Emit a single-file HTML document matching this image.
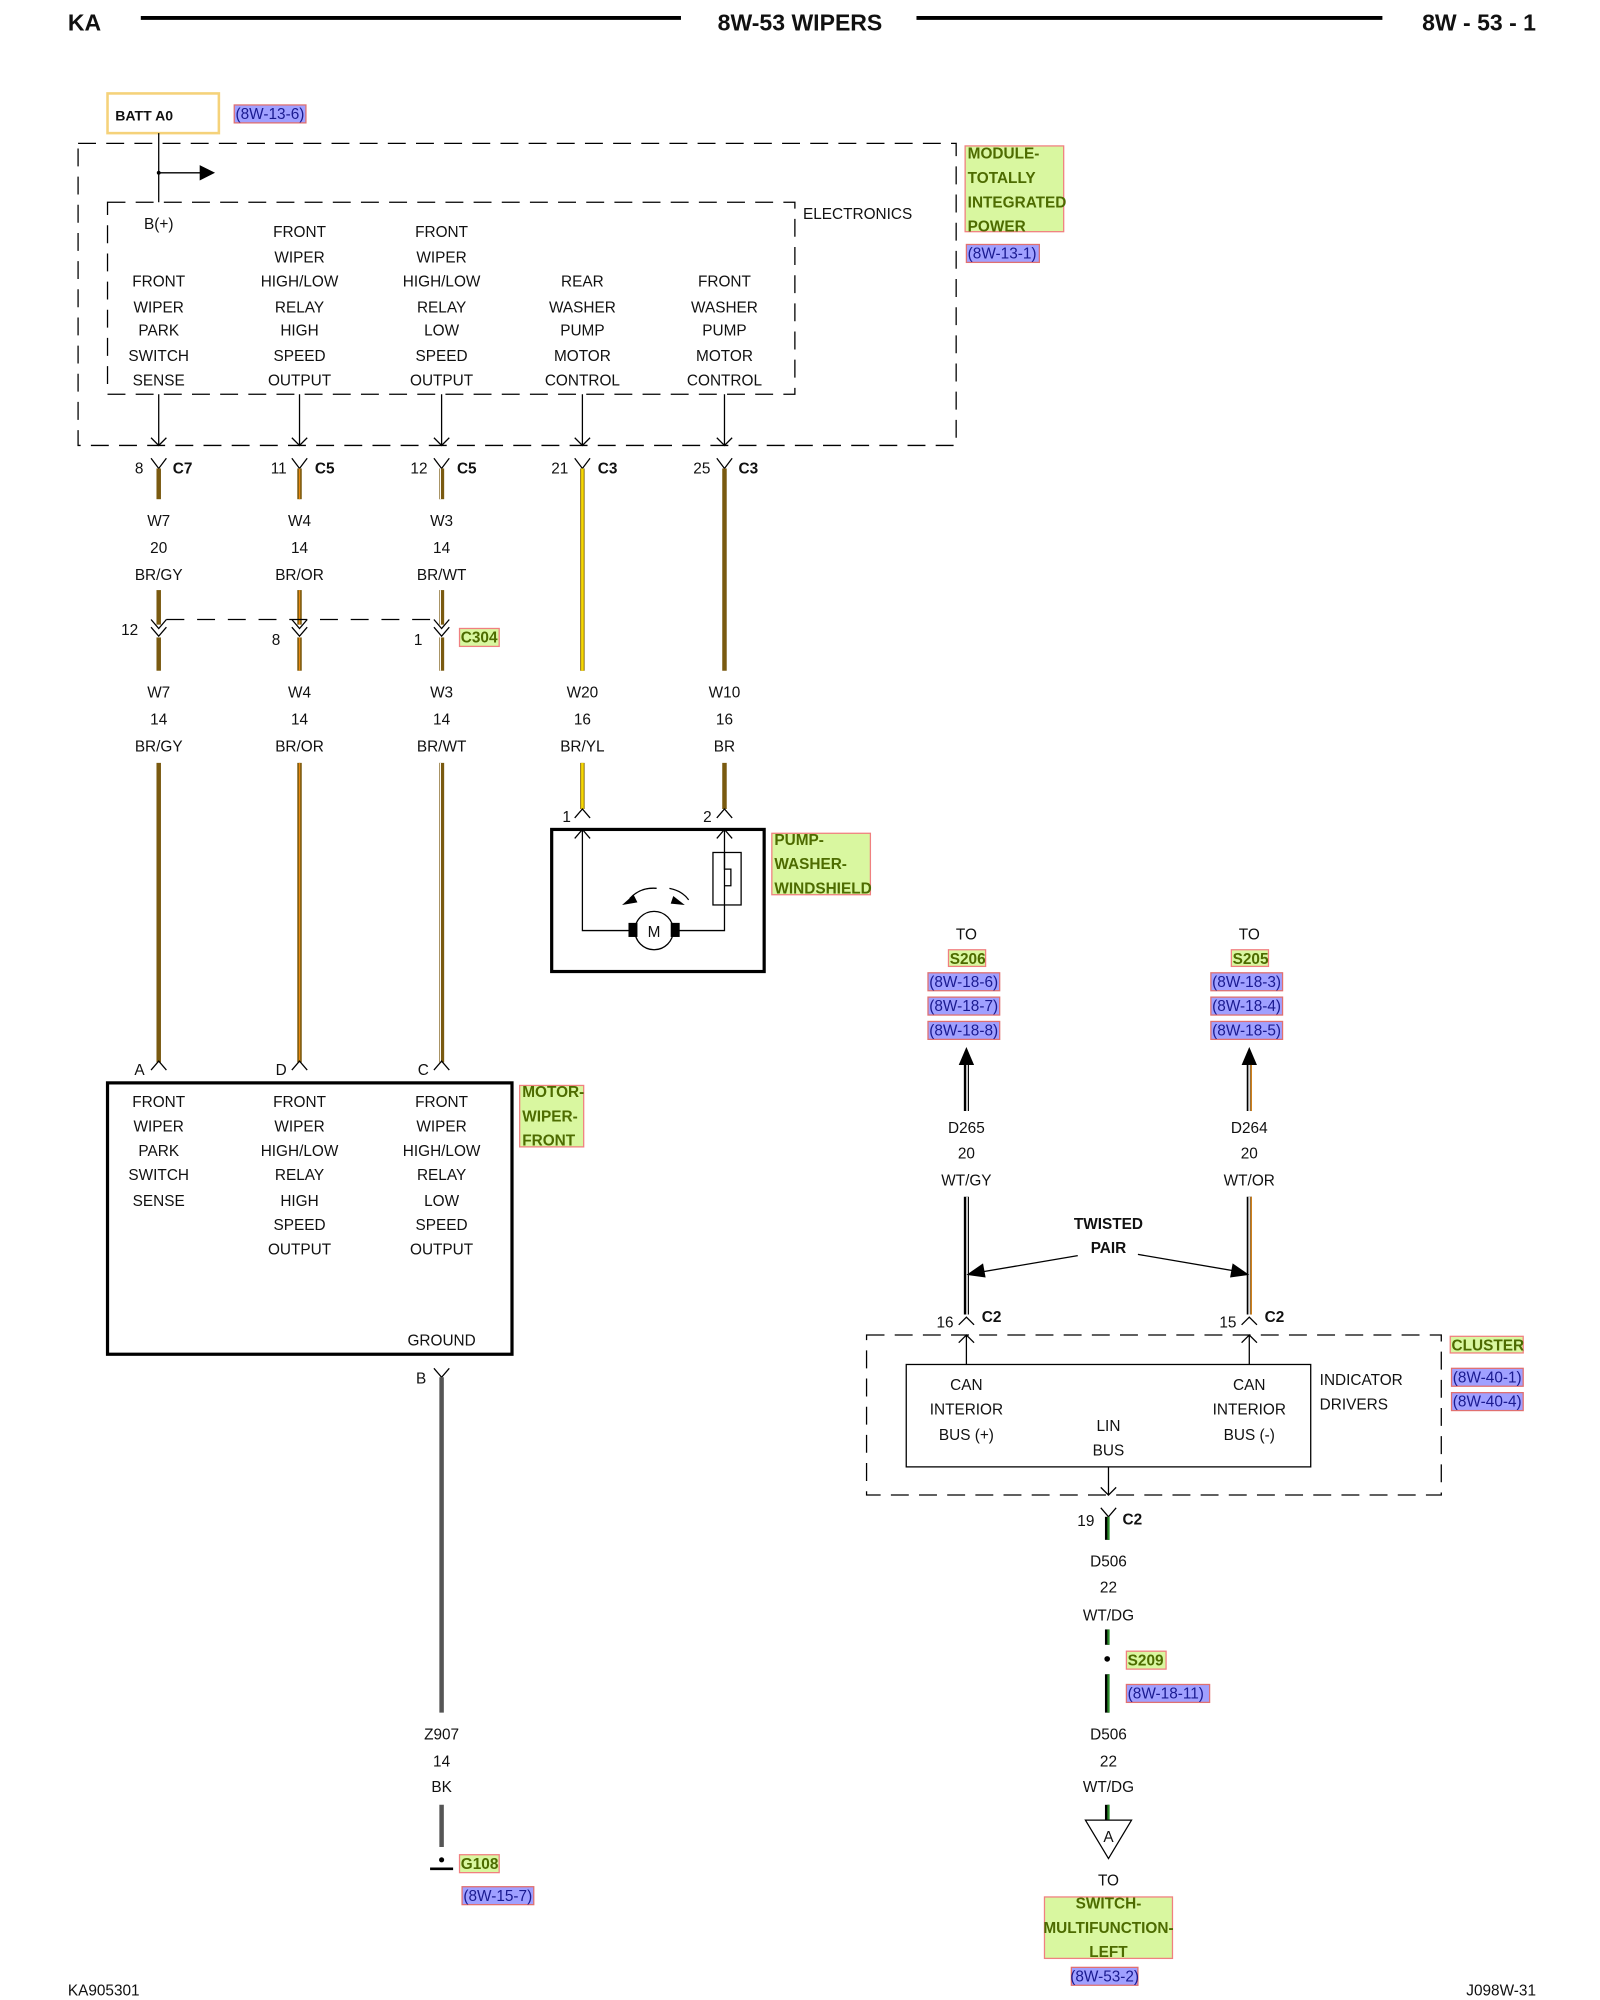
<!DOCTYPE html>
<html><head><meta charset="utf-8"><style>
html,body{margin:0;padding:0;background:#fff}
svg{display:block}
text{font-family:"Liberation Sans",sans-serif;font-size:12px;fill:#111}
.m{text-anchor:middle}
.b{font-weight:bold}
.lg{font-weight:bold;fill:#4d6b00;font-size:12px}
.rf{fill:#1a1a90;font-size:12px}
</style></head><body>
<svg width="1600" height="2000" viewBox="0 0 1250 1562.5" xmlns="http://www.w3.org/2000/svg">
<text x="53" y="24" class="b" style="font-size:18px">KA</text>
<line x1="110" y1="14" x2="532" y2="14" stroke="#000" stroke-width="3"/>
<text x="625" y="24" class="b m" style="font-size:18px">8W-53 WIPERS</text>
<line x1="716" y1="14" x2="1080" y2="14" stroke="#000" stroke-width="3"/>
<text x="1200" y="24" class="b" style="font-size:18px;text-anchor:end">8W - 53 - 1</text>

<rect x="84" y="73" width="87" height="31" fill="#fff" stroke="#f5d27a" stroke-width="2"/>
<text x="90" y="94" class="b" style="font-size:11px">BATT A0</text>
<rect x="183" y="82" width="56" height="14" fill="#a0a0ff" stroke="#e07070"/>
<text x="184" y="93" class="rf">(8W-13-6)</text>

<rect x="61" y="112" width="686" height="236" fill="none" stroke="#000" stroke-dasharray="14,8"/>
<rect x="84" y="158" width="537" height="150" fill="none" stroke="#000" stroke-dasharray="14,8"/>
<line x1="124" y1="104" x2="124" y2="158" stroke="#000"/>
<line x1="124" y1="135" x2="158" y2="135" stroke="#000"/>
<polygon points="156,129 168,135 156,141" fill="#000"/>
<circle cx="124" cy="135" r="1.5" fill="#000"/>
<text x="124" y="179" class="m">B(+)</text>
<text x="670" y="171" class="m">ELECTRONICS</text>
<rect x="754" y="114" width="77" height="67" fill="#d9f7a0" stroke="#f08080"/>
<text x="756" y="124" class="lg">MODULE-</text><text x="756" y="143" class="lg">TOTALLY</text><text x="756" y="162" class="lg">INTEGRATED</text><text x="756" y="181" class="lg">POWER</text>
<rect x="755" y="191" width="57" height="14" fill="#a0a0ff" stroke="#e07070"/>
<text x="756" y="202" class="rf">(8W-13-1)</text>

<g class="m">
<text x="124" y="224" class="m">FRONT</text><text x="124" y="244" class="m">WIPER</text><text x="124" y="262" class="m">PARK</text><text x="124" y="282" class="m">SWITCH</text><text x="124" y="301" class="m">SENSE</text>
<text x="234" y="185" class="m">FRONT</text><text x="234" y="205" class="m">WIPER</text><text x="234" y="224" class="m">HIGH/LOW</text><text x="234" y="244" class="m">RELAY</text><text x="234" y="262" class="m">HIGH</text><text x="234" y="282" class="m">SPEED</text><text x="234" y="301" class="m">OUTPUT</text>
<text x="345" y="185" class="m">FRONT</text><text x="345" y="205" class="m">WIPER</text><text x="345" y="224" class="m">HIGH/LOW</text><text x="345" y="244" class="m">RELAY</text><text x="345" y="262" class="m">LOW</text><text x="345" y="282" class="m">SPEED</text><text x="345" y="301" class="m">OUTPUT</text>
<text x="455" y="224" class="m">REAR</text><text x="455" y="244" class="m">WASHER</text><text x="455" y="262" class="m">PUMP</text><text x="455" y="282" class="m">MOTOR</text><text x="455" y="301" class="m">CONTROL</text>
<text x="566" y="224" class="m">FRONT</text><text x="566" y="244" class="m">WASHER</text><text x="566" y="262" class="m">PUMP</text><text x="566" y="282" class="m">MOTOR</text><text x="566" y="301" class="m">CONTROL</text>
</g>

<g stroke="#000" fill="none">
<path d="M124 308V348M118 342L124 348L130 342"/>
<path d="M234 308V348M228 342L234 348L240 342"/>
<path d="M345 308V348M339 342L345 348L351 342"/>
<path d="M455 308V348M449 342L455 348L461 342"/>
<path d="M566 308V348M560 342L566 348L572 342"/>
<path d="M118 358L124 366L130 358M228 358L234 366L240 358M339 358L345 366L351 358M449 358L455 366L461 358M560 358L566 366L572 358"/>
</g>
<text x="112" y="370" style="text-anchor:end">8</text><text x="135" y="370" class="b">C7</text>
<text x="224" y="370" style="text-anchor:end">11</text><text x="246" y="370" class="b">C5</text>
<text x="334" y="370" style="text-anchor:end">12</text><text x="357" y="370" class="b">C5</text>
<text x="444" y="370" style="text-anchor:end">21</text><text x="467" y="370" class="b">C3</text>
<text x="555" y="370" style="text-anchor:end">25</text><text x="577" y="370" class="b">C3</text>

<g stroke-linecap="butt">
<line x1="124" y1="366" x2="124" y2="390" stroke="#7a5a10" stroke-width="3.5"/>
<line x1="234" y1="366" x2="234" y2="390" stroke="#7a5a10" stroke-width="3.5"/><line x1="234" y1="366" x2="234" y2="390" stroke="#e88a10" stroke-width="1"/>
<line x1="345" y1="366" x2="345" y2="390" stroke="#7a5a10" stroke-width="4"/><line x1="344" y1="366" x2="344" y2="390" stroke="#fff" stroke-width="1"/>
<line x1="455" y1="366" x2="455" y2="524" stroke="#8a6a10" stroke-width="3.5"/><line x1="455" y1="366" x2="455" y2="524" stroke="#f5d800" stroke-width="2"/>
<line x1="566" y1="366" x2="566" y2="524" stroke="#7a5a10" stroke-width="3.5"/>

<line x1="124" y1="461" x2="124" y2="488" stroke="#7a5a10" stroke-width="3.5"/>
<line x1="234" y1="461" x2="234" y2="488" stroke="#7a5a10" stroke-width="3.5"/><line x1="234" y1="461" x2="234" y2="488" stroke="#e88a10" stroke-width="1"/>
<line x1="345" y1="461" x2="345" y2="488" stroke="#7a5a10" stroke-width="4"/><line x1="344" y1="461" x2="344" y2="488" stroke="#fff" stroke-width="1"/>

<line x1="124" y1="498" x2="124" y2="524" stroke="#7a5a10" stroke-width="3.5"/>
<line x1="234" y1="498" x2="234" y2="524" stroke="#7a5a10" stroke-width="3.5"/><line x1="234" y1="498" x2="234" y2="524" stroke="#e88a10" stroke-width="1"/>
<line x1="345" y1="498" x2="345" y2="524" stroke="#7a5a10" stroke-width="4"/><line x1="344" y1="498" x2="344" y2="524" stroke="#fff" stroke-width="1"/>

<line x1="124" y1="596" x2="124" y2="830" stroke="#7a5a10" stroke-width="3.5"/>
<line x1="234" y1="596" x2="234" y2="830" stroke="#7a5a10" stroke-width="3.5"/><line x1="234" y1="596" x2="234" y2="830" stroke="#e88a10" stroke-width="1"/>
<line x1="345" y1="596" x2="345" y2="830" stroke="#7a5a10" stroke-width="4"/><line x1="344" y1="596" x2="344" y2="830" stroke="#fff" stroke-width="1"/>
<line x1="455" y1="596" x2="455" y2="632" stroke="#8a6a10" stroke-width="3.5"/><line x1="455" y1="596" x2="455" y2="632" stroke="#f5d800" stroke-width="2"/>
<line x1="566" y1="596" x2="566" y2="632" stroke="#7a5a10" stroke-width="3.5"/>
</g>
<g class="m">
<text x="124" y="411" class="m">W7</text><text x="124" y="432" class="m">20</text><text x="124" y="453" class="m">BR/GY</text>
<text x="234" y="411" class="m">W4</text><text x="234" y="432" class="m">14</text><text x="234" y="453" class="m">BR/OR</text>
<text x="345" y="411" class="m">W3</text><text x="345" y="432" class="m">14</text><text x="345" y="453" class="m">BR/WT</text>
<text x="124" y="545" class="m">W7</text><text x="124" y="566" class="m">14</text><text x="124" y="587" class="m">BR/GY</text>
<text x="234" y="545" class="m">W4</text><text x="234" y="566" class="m">14</text><text x="234" y="587" class="m">BR/OR</text>
<text x="345" y="545" class="m">W3</text><text x="345" y="566" class="m">14</text><text x="345" y="587" class="m">BR/WT</text>
<text x="455" y="545" class="m">W20</text><text x="455" y="566" class="m">16</text><text x="455" y="587" class="m">BR/YL</text>
<text x="566" y="545" class="m">W10</text><text x="566" y="566" class="m">16</text><text x="566" y="587" class="m">BR</text>
</g>
<g stroke="#000" fill="none">
<path d="M130 484H345" stroke-dasharray="14,10"/>
<path d="M118 484L124 491L130 484M228 484L234 491L240 484M339 484L345 491L351 484"/>
<path d="M118 490L124 497L130 490M228 490L234 497L240 490M339 490L345 497L351 490"/>
</g>
<text x="108" y="496" style="text-anchor:end">12</text>
<text x="219" y="504" style="text-anchor:end">8</text>
<text x="330" y="504" style="text-anchor:end">1</text>
<rect x="359" y="491" width="31" height="14" fill="#d9f7a0" stroke="#f08080"/>
<text x="360" y="502" class="lg">C304</text>

<g stroke="#000" fill="none">
<path d="M449 639L455 632L461 639M560 639L566 632L572 639"/>
<rect x="431" y="648" width="166" height="111" stroke-width="2.5"/>
<path d="M455 648V727H492M529 727H566V648"/>
<path d="M449 655L455 648L461 655M560 655L566 648L572 655"/>
<rect x="557" y="666" width="22" height="41"/>
<path d="M566 666V679H571V692H566"/>
<circle cx="511" cy="727" r="15" fill="#fff"/>
<path d="M513 694Q500 693 492 702M523 694Q533 696 538 703"/>
</g>
<rect x="491" y="721" width="7" height="11" fill="#000"/><rect x="524" y="721" width="7" height="11" fill="#000"/>
<polygon points="486,707 495,699 498,705" fill="#000"/><polygon points="535,707 526,700 524,706" fill="#000"/>
<text x="511" y="732" class="m">M</text>
<text x="446" y="642" style="text-anchor:end">1</text><text x="556" y="642" style="text-anchor:end">2</text>
<rect x="603" y="651" width="77" height="48" fill="#d9f7a0" stroke="#f08080"/>
<text x="605" y="660" class="lg">PUMP-</text><text x="605" y="679" class="lg">WASHER-</text><text x="605" y="698" class="lg">WINDSHIELD</text>

<g stroke="#000" fill="none">
<path d="M118 836L124 829L130 836M228 836L234 829L240 836M339 836L345 829L351 836"/>
<rect x="84" y="846" width="316" height="212" stroke-width="2.5"/>
<path d="M339 1069L345 1076L351 1069"/>
</g>
<text x="113" y="840" style="text-anchor:end">A</text><text x="224" y="840" style="text-anchor:end">D</text><text x="335" y="840" style="text-anchor:end">C</text>
<text x="124" y="865" class="m">FRONT</text><text x="124" y="884" class="m">WIPER</text><text x="124" y="903" class="m">PARK</text><text x="124" y="922" class="m">SWITCH</text><text x="124" y="942" class="m">SENSE</text>
<text x="234" y="865" class="m">FRONT</text><text x="234" y="884" class="m">WIPER</text><text x="234" y="903" class="m">HIGH/LOW</text><text x="234" y="922" class="m">RELAY</text><text x="234" y="942" class="m">HIGH</text><text x="234" y="961" class="m">SPEED</text><text x="234" y="980" class="m">OUTPUT</text>
<text x="345" y="865" class="m">FRONT</text><text x="345" y="884" class="m">WIPER</text><text x="345" y="903" class="m">HIGH/LOW</text><text x="345" y="922" class="m">RELAY</text><text x="345" y="942" class="m">LOW</text><text x="345" y="961" class="m">SPEED</text><text x="345" y="980" class="m">OUTPUT</text>
<text x="345" y="1051" class="m">GROUND</text>
<rect x="406" y="848" width="50" height="48" fill="#d9f7a0" stroke="#f08080"/>
<text x="408" y="857" class="lg">MOTOR-</text><text x="408" y="876" class="lg">WIPER-</text><text x="408" y="895" class="lg">FRONT</text>
<text x="333" y="1081" style="text-anchor:end">B</text>
<line x1="345" y1="1076" x2="345" y2="1338" stroke="#555" stroke-width="3.5"/>
<text x="345" y="1359" class="m">Z907</text><text x="345" y="1380" class="m">14</text><text x="345" y="1400" class="m">BK</text>
<line x1="345" y1="1410" x2="345" y2="1443" stroke="#555" stroke-width="3.5"/>
<line x1="336" y1="1460" x2="354" y2="1460" stroke="#000" stroke-width="2"/>
<circle cx="345" cy="1453" r="2" fill="#000"/>
<rect x="359" y="1449" width="31" height="14" fill="#d9f7a0" stroke="#f08080"/>
<text x="360" y="1460" class="lg">G108</text>
<rect x="361" y="1474" width="56" height="14" fill="#a0a0ff" stroke="#e07070"/>
<text x="362" y="1485" class="rf">(8W-15-7)</text>

<text x="755" y="734" class="m">TO</text><text x="976" y="734" class="m">TO</text>
<rect x="741" y="742" width="29" height="13" fill="#d9f7a0" stroke="#f08080"/><text x="742" y="753" class="lg">S206</text>
<rect x="962" y="742" width="29" height="13" fill="#d9f7a0" stroke="#f08080"/><text x="963" y="753" class="lg">S205</text>
<rect x="725" y="760" width="56" height="14" fill="#a0a0ff" stroke="#e07070"/><text x="726" y="771" class="rf">(8W-18-6)</text>
<rect x="725" y="779" width="56" height="14" fill="#a0a0ff" stroke="#e07070"/><text x="726" y="790" class="rf">(8W-18-7)</text>
<rect x="725" y="798" width="56" height="14" fill="#a0a0ff" stroke="#e07070"/><text x="726" y="809" class="rf">(8W-18-8)</text>
<rect x="946" y="760" width="56" height="14" fill="#a0a0ff" stroke="#e07070"/><text x="947" y="771" class="rf">(8W-18-3)</text>
<rect x="946" y="779" width="56" height="14" fill="#a0a0ff" stroke="#e07070"/><text x="947" y="790" class="rf">(8W-18-4)</text>
<rect x="946" y="798" width="56" height="14" fill="#a0a0ff" stroke="#e07070"/><text x="947" y="809" class="rf">(8W-18-5)</text>
<polygon points="749,832 755,818 761,832" fill="#000"/><polygon points="970,832 976,818 982,832" fill="#000"/>
<g>
<line x1="755" y1="832" x2="755" y2="868" stroke="#000" stroke-width="4"/><line x1="755.5" y1="832" x2="755.5" y2="868" stroke="#ccc" stroke-width="1.5"/>
<line x1="755" y1="935" x2="755" y2="1027" stroke="#000" stroke-width="4"/><line x1="755.5" y1="935" x2="755.5" y2="1027" stroke="#ccc" stroke-width="1.5"/>
<line x1="976" y1="832" x2="976" y2="868" stroke="#000" stroke-width="4"/><line x1="976" y1="832" x2="976" y2="868" stroke="#ddd" stroke-width="1.5"/><line x1="977.5" y1="832" x2="977.5" y2="868" stroke="#e88a10" stroke-width="1"/>
<line x1="976" y1="935" x2="976" y2="1027" stroke="#000" stroke-width="4"/><line x1="976" y1="935" x2="976" y2="1027" stroke="#ddd" stroke-width="1.5"/><line x1="977.5" y1="935" x2="977.5" y2="1027" stroke="#e88a10" stroke-width="1"/>
</g>
<text x="755" y="885" class="m">D265</text><text x="755" y="905" class="m">20</text><text x="755" y="926" class="m">WT/GY</text>
<text x="976" y="885" class="m">D264</text><text x="976" y="905" class="m">20</text><text x="976" y="926" class="m">WT/OR</text>
<text x="866" y="960" class="m b">TWISTED</text><text x="866" y="979" class="m b">PAIR</text>
<line x1="842" y1="981" x2="765" y2="994" stroke="#000"/><polygon points="755,996 768,987 770,998" fill="#000"/>
<line x1="889" y1="980" x2="965" y2="993" stroke="#000"/><polygon points="976,996 963,987 961,998" fill="#000"/>
<g stroke="#000" fill="none">
<path d="M749 1035L755 1029L761 1035M970 1035L976 1029L982 1035"/>
<rect x="677" y="1043" width="449" height="125" stroke-dasharray="14,8"/>
<rect x="708" y="1066" width="316" height="80"/>
<path d="M755 1043V1066M749 1049L755 1043L761 1049M976 1043V1066M970 1049L976 1043L982 1049"/>
<path d="M866 1146V1168M860 1162L866 1168L872 1162"/>
<path d="M860 1178L866 1185L872 1178"/>
</g>
<text x="745" y="1037" style="text-anchor:end">16</text><text x="767" y="1033" class="b">C2</text>
<text x="966" y="1037" style="text-anchor:end">15</text><text x="988" y="1033" class="b">C2</text>
<text x="755" y="1086" class="m">CAN</text><text x="755" y="1105" class="m">INTERIOR</text><text x="755" y="1125" class="m">BUS (+)</text>
<text x="976" y="1086" class="m">CAN</text><text x="976" y="1105" class="m">INTERIOR</text><text x="976" y="1125" class="m">BUS (-)</text>
<text x="866" y="1118" class="m">LIN</text><text x="866" y="1137" class="m">BUS</text>
<text x="1031" y="1082">INDICATOR</text><text x="1031" y="1101">DRIVERS</text>
<rect x="1133" y="1044" width="57" height="13" fill="#d9f7a0" stroke="#f08080"/><text x="1134" y="1055" class="lg">CLUSTER</text>
<rect x="1134" y="1069" width="56" height="14" fill="#a0a0ff" stroke="#e07070"/><text x="1135" y="1080" class="rf">(8W-40-1)</text>
<rect x="1134" y="1088" width="56" height="14" fill="#a0a0ff" stroke="#e07070"/><text x="1135" y="1099" class="rf">(8W-40-4)</text>
<text x="855" y="1192" style="text-anchor:end">19</text><text x="877" y="1191" class="b">C2</text>
<g>
<line x1="865" y1="1185" x2="865" y2="1203" stroke="#000" stroke-width="3.5"/><line x1="866" y1="1185" x2="866" y2="1203" stroke="#2a8a2a" stroke-width="1.8"/>
<line x1="865" y1="1273" x2="865" y2="1285" stroke="#000" stroke-width="3.5"/><line x1="866" y1="1273" x2="866" y2="1285" stroke="#2a8a2a" stroke-width="1.8"/>
<line x1="865" y1="1308" x2="865" y2="1338" stroke="#000" stroke-width="3.5"/><line x1="866" y1="1308" x2="866" y2="1338" stroke="#2a8a2a" stroke-width="1.8"/>
<line x1="865" y1="1410" x2="865" y2="1422" stroke="#000" stroke-width="3.5"/><line x1="866" y1="1410" x2="866" y2="1422" stroke="#2a8a2a" stroke-width="1.8"/>
</g>
<text x="866" y="1224" class="m">D506</text><text x="866" y="1244" class="m">22</text><text x="866" y="1266" class="m">WT/DG</text>
<circle cx="865" cy="1296" r="2.2" fill="#000"/>
<rect x="880" y="1290" width="31" height="14" fill="#d9f7a0" stroke="#f08080"/><text x="881" y="1301" class="lg">S209</text>
<rect x="880" y="1316" width="65" height="14" fill="#a0a0ff" stroke="#e07070"/><text x="881" y="1327" class="rf">(8W-18-11)</text>
<text x="866" y="1359" class="m">D506</text><text x="866" y="1380" class="m">22</text><text x="866" y="1400" class="m">WT/DG</text>
<polygon points="848,1422 884,1422 866,1452" fill="#fff" stroke="#000"/>
<text x="866" y="1439" class="m">A</text>
<text x="866" y="1473" class="m">TO</text>
<rect x="816" y="1482" width="100" height="48" fill="#d9f7a0" stroke="#f08080"/>
<text x="866" y="1491" class="lg m">SWITCH-</text><text x="866" y="1510" class="lg m">MULTIFUNCTION-</text><text x="866" y="1529" class="lg m">LEFT</text>
<rect x="837" y="1537" width="52" height="14" fill="#a0a0ff" stroke="#e07070"/><text x="863" y="1548" class="rf m">(8W-53-2)</text>

<text x="53" y="1559">KA905301</text>
<text x="1200" y="1559" style="text-anchor:end">J098W-31</text>
</svg>
</body></html>
